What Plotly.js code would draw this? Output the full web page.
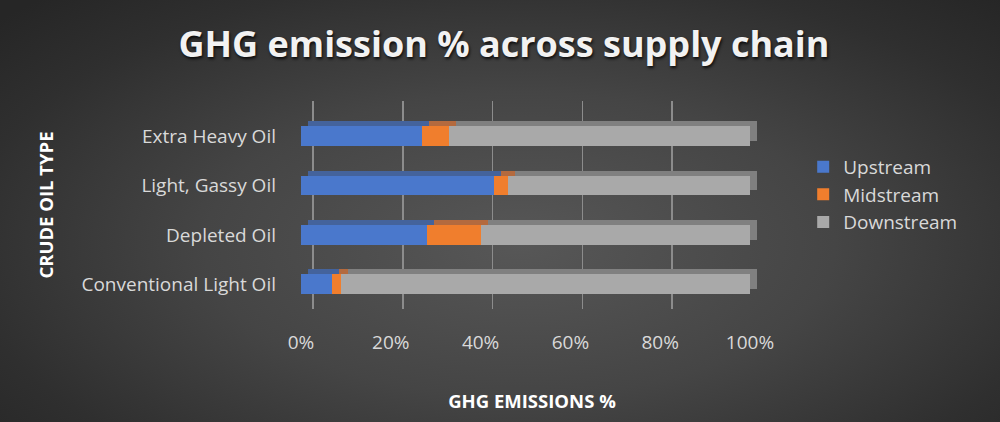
<!DOCTYPE html>
<html>
<head>
<meta charset="utf-8">
<script src="https://cdn.plot.ly/plotly-3.0.1.min.js"></script>
<style>
    html, body { margin: 0; padding: 0; }
    #myChart {
        width: 1000px; height: 422px;
        background: radial-gradient(ellipse 70% 80% at 52% 58%, #575757 0%, #454545 45%, #2f2f2f 80%, #262626 100%);
    }
</style>
</head>
<body>
<div id="myChart"></div>
<script>
// Chart data
const oilTypes = ['Conventional Light Oil', 'Depleted Oil', 'Light, Gassy Oil', 'Extra Heavy Oil'];
const upstream = [7, 28, 43, 27];
const midstream = [2, 12, 3, 6];
const downstream = [91, 60, 54, 67];
const seriesNames = ['Upstream', 'Midstream', 'Downstream'];
const tickVals = [0, 20, 40, 60, 80, 100];
const tickText = ['0%', '20%', '40%', '60%', '80%', '100%'];

const frontColors = ['#4a78cc', '#f07e2d', '#a9a9a9'];
const sideColors = ['#44639c', '#b46a3e', '#808080'];
const textColor = '#d9d9d9';
const font = '"Open Sans", Lato, sans-serif';

const values = [upstream, midstream, downstream];
const traces = [];

// Shifted copy behind the front bars gives the 3D top / right faces
values.forEach((v, i) => {
    traces.push({
        type: 'bar', orientation: 'h', x: v, y: oilTypes,
        xaxis: 'x', yaxis: 'y', width: 0.4,
        marker: { color: sideColors[i], line: { width: 0 } },
        showlegend: false, hoverinfo: 'skip'
    });
});
// Empty trace so the gridline axis gets drawn
traces.push({ type: 'scatter', x: [], y: [], xaxis: 'x3', yaxis: 'y', showlegend: false, hoverinfo: 'skip' });
// Front faces
values.forEach((v, i) => {
    traces.push({
        type: 'bar', orientation: 'h', x: v, y: oilTypes, name: seriesNames[i],
        xaxis: 'x2', yaxis: 'y2', width: 0.4, legendgroup: seriesNames[i],
        marker: { color: frontColors[i], line: { width: 0 } }
    });
});

// 4.49 px per percent, plot area 462 px wide
const pxPerUnit = 4.49, plotW = 462;
const layout = {
    width: 1000, height: 422,
    paper_bgcolor: 'rgba(0,0,0,0)', plot_bgcolor: 'rgba(0,0,0,0)',
    margin: { l: 301, r: 1000 - 301 - plotW, t: 101, b: 113 },
    barmode: 'stack', bargap: 0.6,
    font: { family: font, color: textColor, size: 19 },
    title: {
        text: '<b>GHG emission % across supply chain</b>',
        font: { family: font, size: 36, color: '#f2f2f2', shadow: '1px 2px 3px rgba(0,0,0,0.8)' },
        x: 0.504, xanchor: 'center', y: 0.895, yanchor: 'middle'
    },
    xaxis: {
        range: [-7 / pxPerUnit, plotW / pxPerUnit - 7 / pxPerUnit],
        showgrid: false, zeroline: false, showticklabels: false, ticks: '', showline: false
    },
    yaxis: {
        type: 'category', range: [-0.601, 3.609],
        showgrid: false, zeroline: false, showticklabels: false, ticks: '', showline: false
    },
    xaxis2: {
        overlaying: 'x', anchor: 'y2', side: 'bottom',
        range: [0, plotW / pxPerUnit],
        tickvals: tickVals, ticktext: tickText, ticklabelstandoff: 20,
        showgrid: false, zeroline: false, showline: false, ticks: '',
        tickfont: { size: 19, color: textColor },
        title: { text: '<b>GHG EMISSIONS %</b>', font: { size: 18.5, color: '#ffffff' }, standoff: 41 }
    },
    yaxis2: {
        overlaying: 'y', anchor: 'x2', type: 'category', range: [-0.5, 3.71],
        showgrid: false, zeroline: false, showline: false, ticks: '', ticklabelstandoff: 24,
        tickfont: { size: 19, color: textColor },
        title: { text: '<b>CRUDE OIL TYPE</b>', font: { size: 18.5, color: '#ffffff' }, standoff: 22 }
    },
    xaxis3: {
        overlaying: 'x', anchor: 'y',
        range: [-12 / pxPerUnit, plotW / pxPerUnit - 12 / pxPerUnit],
        tickvals: tickVals, showticklabels: false, ticks: '',
        showgrid: true, gridcolor: '#8c8c8c', gridwidth: 1.5, zeroline: false, showline: false
    },
    legend: {
        x: 1.087, xanchor: 'left', y: 0.775, yanchor: 'top',
        traceorder: 'grouped', tracegroupgap: 0,
        font: { size: 19, color: textColor }, bgcolor: 'rgba(0,0,0,0)'
    },
    hovermode: false
};

Plotly.newPlot('myChart', traces, layout, { staticPlot: true });
</script>
</body>
</html>
